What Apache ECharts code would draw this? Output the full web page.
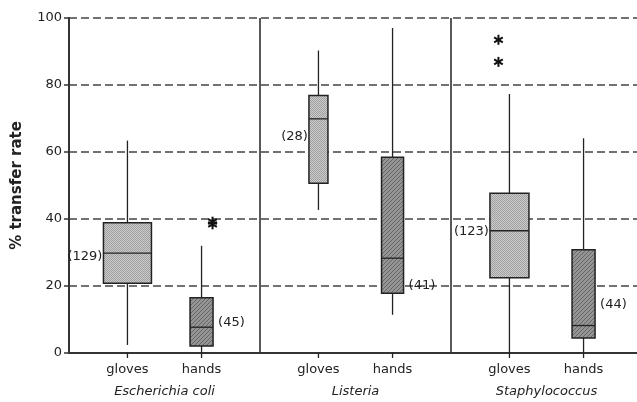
<!DOCTYPE html>
<html><head><meta charset="utf-8">
<script src="https://cdn.jsdelivr.net/npm/echarts@6/dist/echarts.min.js"></script>
<style>html,body{margin:0;padding:0;background:#fff}#c{width:637px;height:402px}</style>
</head><body><div id="c"></div>
<script>
// ---- data ----
const groups = ['Escherichia coli', 'Listeria', 'Staphylococcus'];
const subgroups = ['gloves', 'hands'];
// boxes in order: E.coli gloves, E.coli hands, Listeria gloves, Listeria hands, Staph gloves, Staph hands
const whiskerLow  = [2.4, 0,    42.7, 11.4, 0,    0];
const q1          = [20.8, 2.1, 50.7, 17.8, 22.5, 4.5];
const median      = [29.8, 7.7, 69.9, 28.3, 36.5, 8.2];
const q3          = [38.9, 16.5, 76.9, 58.4, 47.7, 30.8];
const whiskerHigh = [63.4, 32.0, 90.3, 97.0, 77.3, 64.1];
const sampleN     = [129, 45, 28, 41, 123, 44];
const outliers    = [[], [39.2, 38.4], [], [], [93.5, 86.9], []];
const yTicks      = [0, 20, 40, 60, 80, 100];

// ---- layout / style (not data) ----
const BOX_WIDTHS   = [48, 23, 19, 22, 39, 23];
const BOX_OFFSET   = 0.194;              // fraction of band from group centre
const LABEL_SIDE   = ['left', 'right', 'left', 'right', 'left', 'right'];
const LABEL_LEVEL  = [28.8, 9.0, 64.6, 20.0, 36.3, 14.5];
const OUTLIER_SHIFT = [0, 11, 0, 0, -11, 0];
const FONT = '"DejaVu Sans", Verdana, sans-serif';

function makePattern(kind) {
  const c = document.createElement('canvas');
  const ctx = c.getContext('2d');
  if (kind === 'gloves') {
    c.width = 2; c.height = 2;
    ctx.fillStyle = '#cbcbcb'; ctx.fillRect(0, 0, 2, 2);
    ctx.fillStyle = '#a0a0a0'; ctx.fillRect(0, 0, 1, 1); ctx.fillRect(1, 1, 1, 1);
  } else {
    c.width = 4; c.height = 4;
    ctx.fillStyle = '#959595'; ctx.fillRect(0, 0, 4, 4);
    ctx.fillStyle = '#666666';
    for (let i = 0; i < 4; i++) ctx.fillRect(3 - i, i, 1, 1);
  }
  return { image: c, repeat: 'repeat' };
}
const patterns = [makePattern('gloves'), makePattern('hands')];

const boxData = [];
for (let g = 0; g < groups.length; g++) {
  for (let s = 0; s < subgroups.length; s++) {
    const i = g * subgroups.length + s;
    boxData.push([g, s, i, whiskerLow[i], q1[i], median[i], q3[i], whiskerHigh[i], sampleN[i]]);
  }
}

function asterisk(x, y) {
  const r = 5, out = [];
  for (let a = 0; a < 3; a++) {
    const ang = Math.PI / 2 + a * Math.PI / 3;
    out.push({ type: 'line', shape: { x1: x - r * Math.cos(ang), y1: y - r * Math.sin(ang), x2: x + r * Math.cos(ang), y2: y + r * Math.sin(ang) },
      style: { stroke: '#111', lineWidth: 2 } });
  }
  return out;
}

function renderItem(params, api) {
  const g = api.value(0), s = api.value(1), idx = api.value(2);
  const band = api.size([1, 0])[0];
  const cx = api.coord([g, 0])[0] + (s === 0 ? -1 : 1) * band * BOX_OFFSET;
  const Y = v => api.coord([g, v])[1];
  const y0 = Y(0);
  const w = BOX_WIDTHS[idx];
  const yLo = Y(api.value(3)), yQ1 = Y(api.value(4)), yMed = Y(api.value(5)), yQ3 = Y(api.value(6)), yHi = Y(api.value(7));
  const children = [];
  children.push({ type: 'line', shape: { x1: cx, y1: yLo, x2: cx, y2: yHi }, style: { stroke: '#222', lineWidth: 1.3 } });
  children.push({ type: 'rect', shape: { x: cx - w / 2, y: yQ3, width: w, height: yQ1 - yQ3 },
    style: { fill: patterns[s], stroke: '#222', lineWidth: 1.5 } });
  children.push({ type: 'line', shape: { x1: cx - w / 2, y1: yMed, x2: cx + w / 2, y2: yMed }, style: { stroke: '#222', lineWidth: 1.3 } });
  children.push({ type: 'line', shape: { x1: cx, y1: y0, x2: cx, y2: y0 + 5 }, style: { stroke: '#222', lineWidth: 1.3 } });
  children.push({ type: 'text', style: { x: cx, y: y0 + 17, text: subgroups[s], font: '13px ' + FONT, fill: '#222', align: 'center', verticalAlign: 'middle' } });
  const side = LABEL_SIDE[idx];
  children.push({ type: 'text', style: {
    x: side === 'left' ? cx - w / 2 - 1 : cx + w / 2 + 5,
    y: Y(LABEL_LEVEL[idx]), text: '(' + api.value(8) + ')', font: '13px ' + FONT, fill: '#222',
    align: side === 'left' ? 'right' : 'left', verticalAlign: 'middle' } });
  outliers[idx].forEach(v => { asterisk(cx + OUTLIER_SHIFT[idx], Y(v)).forEach(e => children.push(e)); });
  return { type: 'group', children };
}

const chart = echarts.init(document.getElementById('c'), null, { renderer: 'canvas' });
chart.setOption({
  animation: false,
  backgroundColor: '#fff',
  grid: { left: 69, top: 18, bottom: 49, width: 573, containLabel: false, outerBoundsMode: 'none' },
  xAxis: {
    type: 'category', data: groups, boundaryGap: true,
    axisLine: { show: true, lineStyle: { color: '#333', width: 2 } },
    axisTick: { show: false },
    splitLine: { show: true, lineStyle: { color: '#222', width: 1.5, type: 'solid' } },
    axisLabel: { margin: 32, fontFamily: FONT, fontSize: 13, fontStyle: 'italic', color: '#222' }
  },
  yAxis: {
    type: 'value', min: yTicks[0], max: yTicks[yTicks.length - 1], interval: yTicks[1] - yTicks[0],
    name: '% transfer rate', nameLocation: 'middle', nameGap: 44,
    nameTextStyle: { fontFamily: FONT, fontSize: 15, fontWeight: 'bold', color: '#222' },
    axisLine: { show: true, lineStyle: { color: '#333', width: 2 } },
    axisTick: { show: true, length: 5, lineStyle: { color: '#333', width: 1.5 } },
    axisLabel: { fontFamily: FONT, fontSize: 13, color: '#222', margin: 7 },
    splitLine: { show: true, lineStyle: { color: '#444', width: 1.5, type: [8, 4] } }
  },
  series: [{
    type: 'custom', renderItem, data: boxData, clip: false,
    encode: { x: 0, y: [3, 4, 5, 6, 7] }
  }]
});
</script></body></html>
